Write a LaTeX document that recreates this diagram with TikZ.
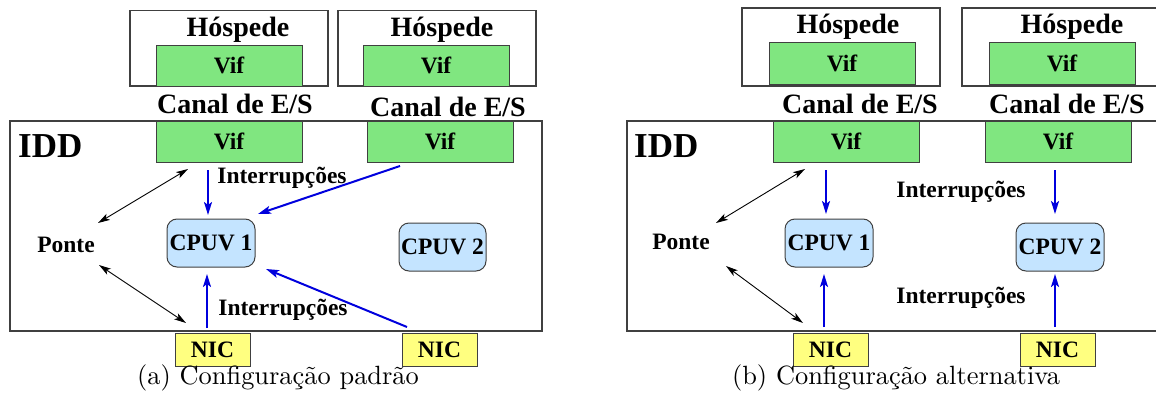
\documentclass[tikz,border=0pt]{standalone}
\usepackage{fontspec}
\newfontfamily\timesfont{Liberation Serif}
\usetikzlibrary{arrows.meta}
\definecolor{vifgreen}{HTML}{80E680}
\definecolor{cpublue}{HTML}{C4E4FF}
\definecolor{nicyellow}{HTML}{FFFF80}
\definecolor{irqblue}{HTML}{0000DD}
\definecolor{edgegray}{HTML}{404040}
\newcommand\fhost{\timesfont\bfseries\fontsize{28}{30}\selectfont}
\newcommand\flabel{\timesfont\bfseries\fontsize{23.5}{25}\selectfont}
\newcommand\fidd{\timesfont\bfseries\fontsize{35}{37}\selectfont}
\newcommand\fcaption{\fontsize{10}{12}\selectfont}
\begin{document}
\begin{tikzpicture}[x=1pt,y=-1pt,
  frame/.style={draw=edgegray, line width=1.1pt},
  hostbox/.style={draw=edgegray, line width=1.1pt, inner sep=0pt, minimum width=198pt},
  vifbox/.style={draw=edgegray, fill=vifgreen, line width=1pt, minimum width=146pt,
    minimum height=41pt, inner sep=0pt, font=\flabel},
  cpubox/.style={draw=edgegray, fill=cpublue, line width=1pt, rounded corners=10pt,
    minimum width=88pt, minimum height=48pt, inner sep=0pt, font=\flabel},
  nicbox/.style={draw=edgegray, fill=nicyellow, line width=1pt, minimum width=75pt,
    minimum height=33pt, inner sep=0pt, font=\flabel},
  txt/.style={inner sep=0pt, anchor=base},
  captxt/.style={inner sep=0pt, anchor=base, font=\fcaption, scale=2.64},
  irq/.style={draw=irqblue, line width=2pt, -{Stealth[length=13pt,width=8pt,inset=3pt]}},
  bridge/.style={draw=black, line width=0.9pt,
    {Stealth[length=12pt,width=7pt,inset=3pt]}-{Stealth[length=12pt,width=7pt,inset=3pt]}}
]
\useasboundingbox (0,0) rectangle (1156,396);

% ---------- (a) default configuration ----------
\node[hostbox, minimum height=75.3pt] (hostA) at (229,48.35) {};
\node[hostbox, minimum height=75.3pt] (hostB) at (437,48.35) {};
\node[vifbox, minimum height=40.3pt] (gvifA) at (229,65.85) {Vif};
\node[vifbox, minimum height=40.3pt] (gvifB) at (436,65.85) {Vif};
\node[txt, font=\fhost] (hospA) at (238,36.7) {Hóspede};
\node[txt, font=\fhost] (hospB) at (442,36.7) {Hóspede};
\node[txt, font=\fhost] (canA) at (235,113) {Canal de E/S};
\node[txt, font=\fhost] (canB) at (448,116.5) {Canal de E/S};

\node[frame, inner sep=0pt, minimum width=532pt, minimum height=210pt] (iddA) at (276,226) {};
\node[txt, font=\fidd, anchor=base west] (iddlabA) at (18,157) {IDD};

\node[vifbox] (vifA) at (229,141.5) {Vif};
\node[vifbox] (vifB) at (440,141.5) {Vif};
\node[cpubox] (cpuA) at (211,243) {CPUV 1};
\node[cpubox, minimum width=87pt] (cpuB) at (442.5,247) {CPUV 2};
\node[nicbox] (nicA) at (212.5,349.5) {NIC};
\node[nicbox] (nicB) at (439.5,349.5) {NIC};

\node[txt, font=\flabel] (ponteA) at (66,252.7) {Ponte};
\node[txt, font=\flabel] (irqtopA) at (282,183) {Interrupções};
\node[txt, font=\flabel] (irqbotA) at (283,315) {Interrupções};
\node[captxt] (capA) at (278,384.3) {(a) Configuração padrão};

\coordinate (a1s) at (208,170);   \coordinate (a1e) at (208,215);
\coordinate (a2s) at (400,166);   \coordinate (a2e) at (258,214);
\coordinate (a3s) at (207,328);   \coordinate (a3e) at (207,274);
\coordinate (a4s) at (407,327);   \coordinate (a4e) at (266,269);
\coordinate (b1s) at (98,223);    \coordinate (b1e) at (188,169);
\coordinate (b2s) at (99,265);    \coordinate (b2e) at (186,323);

\draw[irq] (a1s) -- (a1e);
\draw[irq] (a2s) -- (a2e);
\draw[irq] (a3s) -- (a3e);
\draw[irq] (a4s) -- (a4e);
\draw[bridge] (b1s) -- (b1e);
\draw[bridge] (b2s) -- (b2e);

% ---------- (b) alternative configuration ----------
\node[hostbox, minimum height=78pt] (hostC) at (841,47) {};
\draw[frame] (1156,8) -- (962,8) -- (962,86) -- (1156,86);
\node[vifbox] (gvifC) at (842,63.5) {Vif};
\node[vifbox] (gvifD) at (1062,63.5) {Vif};
\node[txt, font=\fhost] (hospC) at (848,33.3) {Hóspede};
\node[txt, font=\fhost] (hospD) at (1072,33.3) {Hóspede};
\node[txt, font=\fhost] (canC) at (860,113) {Canal de E/S};
\node[txt, font=\fhost] (canD) at (1067,113) {Canal de E/S};

\draw[frame] (1156,121) -- (627,121) -- (627,331) -- (1156,331);
\node[txt, font=\fidd, anchor=base west] (iddlabB) at (634,157) {IDD};

\node[vifbox] (vifC) at (846,141.5) {Vif};
\node[vifbox] (vifD) at (1058,141.5) {Vif};
\node[cpubox] (cpuC) at (829,243) {CPUV 1};
\node[cpubox] (cpuD) at (1060,247) {CPUV 2};
\node[nicbox] (nicC) at (830.5,349.5) {NIC};
\node[nicbox] (nicD) at (1057.5,349.5) {NIC};

\node[txt, font=\flabel] (ponteB) at (681,249) {Ponte};
\node[txt, font=\flabel] (irqtopB) at (961,197) {Interrupções};
\node[txt, font=\flabel] (irqbotB) at (961,303) {Interrupções};
\node[captxt] (capB) at (896,384.3) {(b) Configuração alternativa};

\coordinate (c1s) at (826,170);   \coordinate (c1e) at (826,214);
\coordinate (c2s) at (1055,170);  \coordinate (c2e) at (1055,214);
\coordinate (c3s) at (824,327);   \coordinate (c3e) at (824,274);
\coordinate (c4s) at (1055,327);  \coordinate (c4e) at (1055,274);
\coordinate (d1s) at (716,223);   \coordinate (d1e) at (805,169);
\coordinate (d2s) at (726,266);   \coordinate (d2e) at (803,323);

\draw[irq] (c1s) -- (c1e);
\draw[irq] (c2s) -- (c2e);
\draw[irq] (c3s) -- (c3e);
\draw[irq] (c4s) -- (c4e);
\draw[bridge] (d1s) -- (d1e);
\draw[bridge] (d2s) -- (d2e);
\end{tikzpicture}
\end{document}
